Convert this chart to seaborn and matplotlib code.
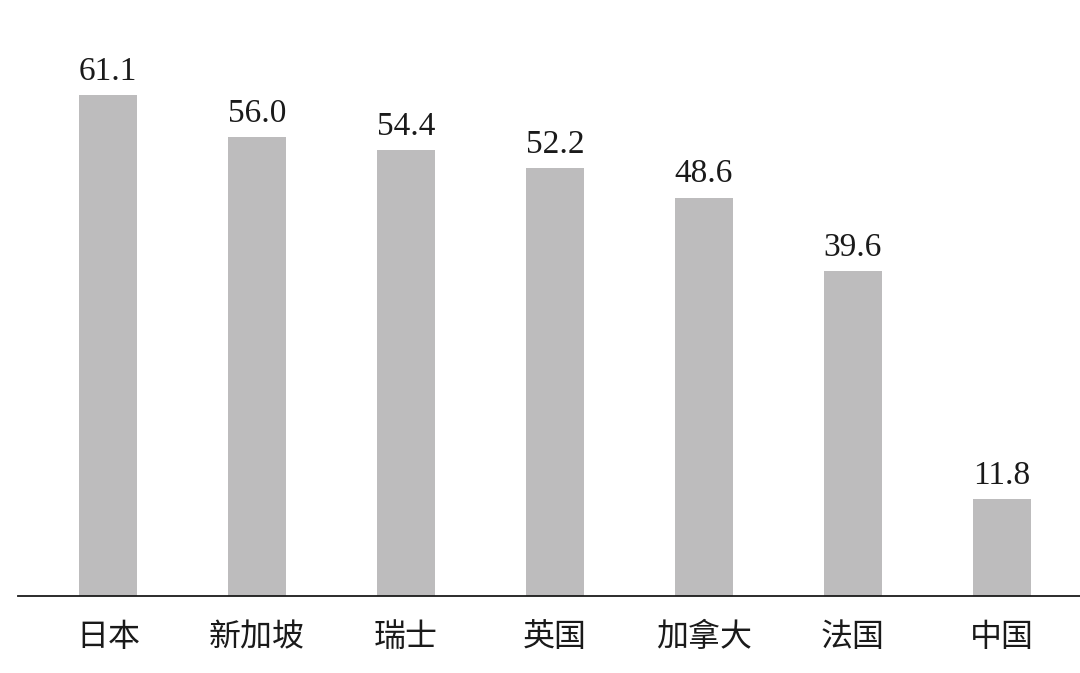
import pandas as pd
import matplotlib
matplotlib.use("Agg")
import matplotlib.pyplot as plt
import seaborn as sns

# data
countries = ["日本", "新加坡", "瑞士", "英国", "加拿大", "法国", "中国"]
values = [61.1, 56.0, 54.4, 52.2, 48.6, 39.6, 11.8]

df = pd.DataFrame({"country": countries, "value": values})

sns.set_theme(style="white")
plt.rcParams["font.family"] = ["Noto Sans CJK SC", "DejaVu Sans"]

fig = plt.figure(figsize=(10.8, 6.73), dpi=100)
ax = fig.add_axes([18 / 1080, 77 / 673, 1 - 18 / 1080, 1 - 77 / 673])

sns.barplot(data=df, x="country", y="value", color="#bdbcbd", saturation=1,
            width=0.39, linewidth=0, ax=ax)

# value labels on top of bars
ax.bar_label(ax.containers[0], fmt="%.1f", padding=6,
             fontsize=24, family="Liberation Serif", color="#1a1a1a")

ax.set_xlim(-0.604, 6.524)
ax.set_ylim(0, 72.7)

for side in ["top", "right", "left"]:
    ax.spines[side].set_visible(False)
ax.spines["bottom"].set_color("#1a1a1a")
ax.spines["bottom"].set_linewidth(1.3)

ax.set_yticks([])
ax.set_xlabel("")
ax.set_ylabel("")
ax.tick_params(axis="x", length=0, pad=18, labelsize=23, labelcolor="#1a1a1a")

fig.savefig("out.png", dpi=100, facecolor="white")
